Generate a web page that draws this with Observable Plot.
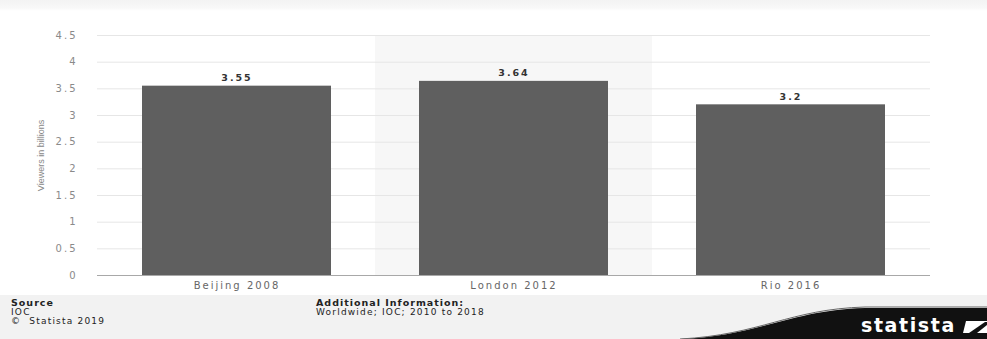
<!DOCTYPE html>
<html>
<head>
<meta charset="utf-8">
<script src="https://cdn.jsdelivr.net/npm/d3@7"></script>
<script src="https://cdn.jsdelivr.net/npm/@observablehq/plot@0.6"></script>
<style>
  html, body { margin: 0; padding: 0; background: #fff; }
  #wrap { position: relative; width: 987px; height: 339px; overflow: hidden; background: #fff; }
  #topband { position: absolute; left: 0; top: 0; width: 987px; height: 11px;
    background: linear-gradient(#f3f3f3, #f8f8f8 70%, #fff); }
  #chart { position: absolute; left: 0; top: 0; }
  #chart svg text { letter-spacing: 2px; }
  #chart svg [aria-label="y-axis label"] text { font-family: "Liberation Sans Narrow", "Liberation Sans", sans-serif; font-size: 9px; letter-spacing: 0; fill: #888; }
  #footer { position: absolute; left: 0; top: 295px; width: 987px; height: 44px; background: #f2f2f2;
    font-family: "DejaVu Sans", sans-serif; font-size: 9px; line-height: 9.2px; color: #222; letter-spacing: 1.2px; }
  .blk { position: absolute; top: 3px; }
  .blk b { font-weight: bold; font-size: 9.5px; letter-spacing: 1px; }
  #logo { position: absolute; left: 0; top: 0; }
</style>
</head>
<body>
<div id="wrap">
  <div id="topband"></div>
  <div id="chart"></div>
  <div id="footer">
    <div class="blk" style="left:11px"><b>Source</b><br>IOC<br>©&nbsp; Statista 2019</div>
    <div class="blk" style="left:316px"><b>Additional Information:</b><br>Worldwide; IOC; 2010 to 2018</div>
    <svg id="logo" width="987" height="44" viewBox="0 0 987 44">
      <path d="M680 44 C760 41 790 15 865 13 L987 13 L987 44 Z" fill="#111"/>
      <path d="M680 44 C760 40 790 14 865 12 L987 12" fill="none" stroke="#666" stroke-width="1"/>
      <text x="861" y="37" fill="#fff" font-family="DejaVu Sans, sans-serif" font-weight="bold" font-size="19" letter-spacing="1.6">statista</text>
      <path d="M966 26 L987 26 L987 38 L963 38 Z" fill="#fff"/>
      <path d="M969 38 L985 27 L987 27 L987 30 L977 38 Z" fill="#111"/>
    </svg>
  </div>
</div>
<script>
// Global TV audience of the Summer Olympics, in billions of viewers
const categories = ["Beijing 2008", "London 2012", "Rio 2016"];
const viewers = [3.55, 3.64, 3.2];
const yTicks = [0, 0.5, 1, 1.5, 2, 2.5, 3, 3.5, 4, 4.5];
const highlighted = "London 2012";

const rows = categories.map((c, i) => ({category: c, viewers: viewers[i]}));

const chart = Plot.plot({
  width: 987,
  height: 295,
  marginTop: 35,
  marginBottom: 20,
  marginLeft: 97,
  marginRight: 57,
  style: {fontFamily: "DejaVu Sans, sans-serif", fontSize: "10px", background: "transparent"},
  x: {domain: categories, paddingInner: 0.316, paddingOuter: 0.158, label: null},
  y: {domain: [0, 4.5], label: null},
  marks: [
    // shaded column behind the highlighted edition
    Plot.barY([{category: highlighted, top: 4.5}], {
      x: "category", y: "top", fill: "#f7f7f7", insetLeft: -44, insetRight: -44
    }),
    Plot.gridY(yTicks, {stroke: "#e6e6e6", strokeOpacity: 1}),
    Plot.barY(rows, {x: "category", y: "viewers", fill: "#5f5f5f"}),
    Plot.ruleY([0], {stroke: "#a8a8a8"}),
    Plot.text(rows, {
      x: "category", y: "viewers", text: d => String(d.viewers),
      dy: -8, fill: "#333", fontWeight: "bold", fontSize: 9.5
    }),
    Plot.axisY({
      ticks: yTicks, tickSize: 0, tickPadding: 20, tickFormat: d => String(d),
      fill: "#8a8a8a", label: "Viewers in billions", labelAnchor: "center",
      labelOffset: 60, labelArrow: "none"
    }),
    Plot.axisX({tickSize: 0, tickPadding: 6, fill: "#666", label: null})
  ]
});

document.getElementById("chart").appendChild(chart);
</script>
</body>
</html>
